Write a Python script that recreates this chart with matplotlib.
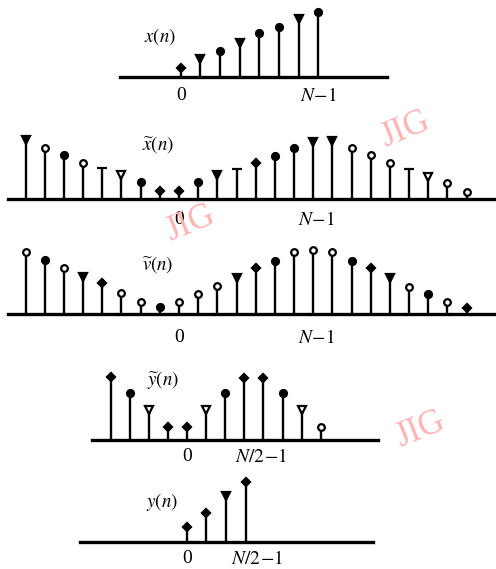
import matplotlib.pyplot as plt
import numpy as np

plt.rcParams["mathtext.fontset"] = "stix"
plt.rcParams["font.family"] = ["Liberation Serif", "DejaVu Serif"]

# sample values (heights, arbitrary units)
x_n = np.arange(0, 8)
x_vals = [9, 18, 26, 34, 44, 50, 58, 65]

xt_n = np.arange(-8, 16)
xt_vals = [59, 51, 44, 36, 31, 24, 17, 8, 8, 17, 24, 30,
           36, 43, 51, 57, 58, 51, 44, 36, 30, 22, 16, 7]

vt_n = np.arange(-8, 16)
vt_vals = [62, 54, 46, 37, 31, 21, 12, 7, 12, 20, 28, 36,
           46, 53, 62, 64, 62, 53, 46, 36, 27, 20, 12, 6]

yt_n = np.arange(-4, 8)
yt_vals = [63, 47, 30, 13, 13, 30, 47, 62, 62, 47, 30, 13]

y_n = np.arange(0, 4)
y_vals = [15, 29, 46, 60]

# marker look of each stem head (scan has mixed shapes)
x_mk = ["fd", "fv", "fo", "fv", "fo", "fo", "fv", "fo"]
xt_mk = ["fv", "oo", "fo", "oo", "t", "ov", "fo", "fd", "fd", "fo", "fv", "t",
         "fd", "fo", "fo", "fv", "fv", "oo", "oo", "oo", "t", "ov", "oo", "oo"]
vt_mk = ["oo", "fo", "oo", "fv", "fd", "oo", "oo", "fo", "oo", "oo", "oo", "fv",
         "fd", "fo", "oo", "oo", "oo", "fo", "fd", "fv", "oo", "fo", "oo", "fd"]
yt_mk = ["fd", "fo", "ov", "fd", "fd", "ov", "fo", "fd", "fd", "fo", "ov", "oo"]
y_mk = ["fd", "fd", "fv", "fd"]

W, H = 496, 569
fig = plt.figure(figsize=(W / 100, H / 100), dpi=100)

MK = {
    "fo": dict(marker="o", ms=5, mfc="black"),
    "oo": dict(marker="o", ms=4.8, mfc="white"),
    "fv": dict(marker="v", ms=5.5, mfc="black"),
    "ov": dict(marker="v", ms=5.5, mfc="white"),
    "fd": dict(marker="D", ms=4, mfc="black"),
    "t": dict(marker="_", ms=6.5, mfc="black"),
}


def panel(n, vals, mk, x0, dx, base, lo_px, hi_px, label, lab_xy, ticks, pad):
    # axes spans full width, 1 y-unit = 1 pixel
    ax = fig.add_axes([0, 1 - (base + 35) / H, 1, 115 / H])
    ax.set_xlim(-x0 / dx, (W - x0) / dx)
    ax.set_ylim(-35, 80)
    ax.patch.set_visible(False)
    for s in ["top", "right", "left"]:
        ax.spines[s].set_visible(False)
    sp = ax.spines["bottom"]
    sp.set_position(("data", 0))
    sp.set_bounds((lo_px - x0) / dx, (hi_px - x0) / dx)
    sp.set_linewidth(2.4)
    ax.set_yticks([])

    ax.vlines(n, 0, vals, color="black", lw=1.7)
    for i, (xi, yi) in enumerate(zip(n, vals)):
        st = MK[mk[i]]
        ax.plot([xi], [yi], linestyle="none", marker=st["marker"], ms=st["ms"],
                mfc=st["mfc"], mec="black", mew=1.6)

    ax.set_xticks([t[0] for t in ticks])
    ax.set_xticklabels([t[1] for t in ticks], fontsize=14)
    ax.tick_params(axis="x", length=0, pad=pad)
    ax.text(lab_xy[0], lab_xy[1], label, fontsize=13.5, ha="center", va="center")
    return ax


panel(x_n, x_vals, x_mk, 180.7, 19.66, 77, 120, 387,
      r"$x(n)$", (-1.05, 40), [(0, "0"), (7, r"$N\!-\!1$")], 7)
panel(xt_n, xt_vals, xt_mk, 179, 19.17, 199, 8, 496,
      r"$\widetilde{x}(n)$", (-1.1, 54), [(0, "0"), (7.2, r"$N\!-\!1$")], 9)
panel(vt_n, vt_vals, vt_mk, 179, 19.17, 314, 8, 496,
      r"$\widetilde{v}(n)$", (-1.1, 49), [(0, "0"), (7.2, r"$N\!-\!1$")], 11)
panel(yt_n, yt_vals, yt_mk, 187.3, 19.04, 440, 92, 378,
      r"$\widetilde{y}(n)$", (-1.28, 60), [(0, "0"), (3.9, r"$N/2\!-\!1$")], 6)
panel(y_n, y_vals, y_mk, 186.7, 19.67, 542, 80, 373,
      r"$y(n)$", (-1.26, 40), [(0, "0"), (3.6, r"$N/2\!-\!1$")], 6)

# scanner watermarks
for (px, py) in [(405, 130), (190, 224), (420, 430)]:
    fig.text(px / W, 1 - py / H, "JIG", fontsize=25, color="#ffb3b3",
             rotation=22, ha="center", va="center", family="Liberation Serif")

fig.savefig("out.png", dpi=100)
